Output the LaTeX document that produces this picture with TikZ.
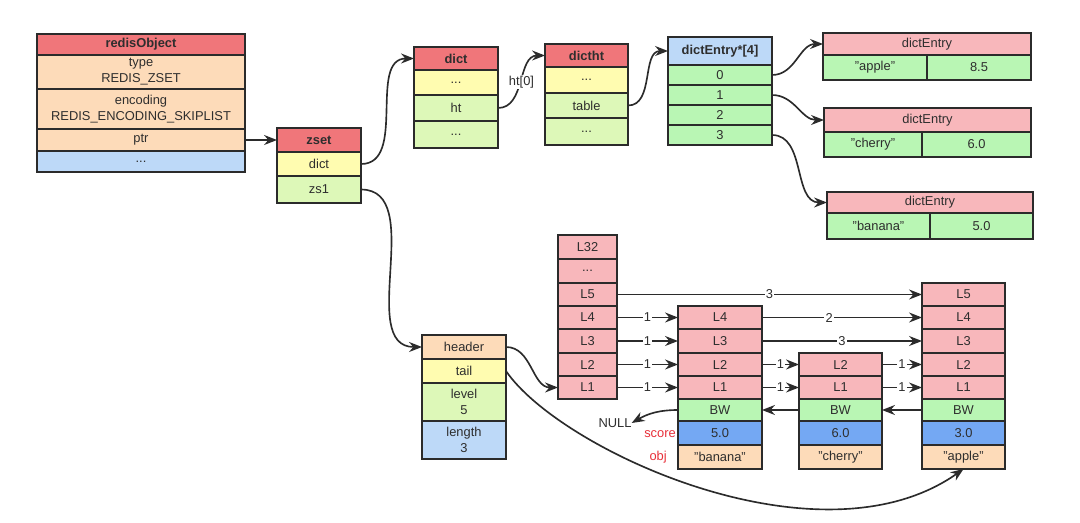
\documentclass[tikz,border=0pt]{standalone}
\usepackage{fontspec}
\setmainfont{Liberation Sans}
\usetikzlibrary{arrows.meta}
\definecolor{tred}{HTML}{F0767A}
\definecolor{peach}{HTML}{FDDBB9}
\definecolor{lblue}{HTML}{BDD9F8}
\definecolor{yel}{HTML}{FFFCB0}
\definecolor{lgreen}{HTML}{DDF8B8}
\definecolor{pink}{HTML}{F8B7BB}
\definecolor{green}{HTML}{B9F6B4}
\definecolor{sblue}{HTML}{74A8F3}
\definecolor{linec}{HTML}{2B2B2B}
\definecolor{textc}{HTML}{2E2E2E}
\definecolor{lred}{HTML}{E8303A}
\tikzset{
  cellst/.style={draw=linec, line width=1.5pt, inner sep=0pt, outer sep=0pt,
    anchor=north west, align=center, text=textc, font=\fontsize{11}{13.5}\selectfont},
  link/.style={draw=linec, line width=1.4pt, -{Stealth[length=11pt,width=8.5pt]}},
  wt/.style={fill=white, inner sep=1pt, text=textc, font=\fontsize{11}{13.5}\selectfont},
  plain/.style={inner sep=0pt, text=textc, font=\fontsize{11}{13.5}\selectfont},
  redlab/.style={inner sep=0pt, text=lred, font=\fontsize{11}{13.5}\selectfont},
}
\newcommand\cellbox[7]{\node[cellst,fill=#6,minimum width=#4*0.03cm,minimum height=#5*0.03cm] (#1) at (#2,#3) {#7};}
\begin{document}
\begin{tikzpicture}[x=0.03cm,y=-0.03cm]
\useasboundingbox[fill=white] (0,0) rectangle (1080,522);
% redisObject
\cellbox{ro}{37}{34}{208}{21}{tred}{\bfseries redisObject}
\cellbox{rotype}{37}{55}{208}{34}{peach}{type\\REDIS\_ZSET}
\cellbox{roenc}{37}{89}{208}{40}{peach}{encoding\\REDIS\_ENCODING\_SKIPLIST}
\cellbox{roptr}{37}{129}{208}{22}{peach}{ptr}
\cellbox{rodots}{37}{151}{208}{21}{lblue}{...}
% zset
\cellbox{zs}{277}{128}{84}{24}{tred}{\bfseries zset}
\cellbox{zsdict}{277}{152}{84}{24}{yel}{dict}
\cellbox{zszsl}{277}{176}{84}{27}{lgreen}{zs1}
% dict
\cellbox{dt}{414}{47}{84}{23}{tred}{\bfseries dict}
\cellbox{dtd1}{414}{70}{84}{25}{yel}{...}
\cellbox{dtht}{414}{95}{84}{26}{lgreen}{ht}
\cellbox{dtd2}{414}{121}{84}{27}{lgreen}{...}
% dictht
\cellbox{dh}{545}{44}{83}{23}{tred}{\bfseries dictht}
\cellbox{dhd1}{545}{67}{83}{26}{yel}{...}
\cellbox{dhtable}{545}{93}{83}{25}{lgreen}{table}
\cellbox{dhd2}{545}{118}{83}{27}{lgreen}{...}
% dictEntry*[4]
\cellbox{de}{668}{37}{104}{28}{lblue}{\bfseries dictEntry*[4]}
\cellbox{de0}{668}{65}{104}{20}{green}{0}
\cellbox{de1}{668}{85}{104}{20}{green}{1}
\cellbox{de2}{668}{105}{104}{20}{green}{2}
\cellbox{de3}{668}{125}{104}{20}{green}{3}
% dictEntry apple
\cellbox{ea}{823}{33}{208}{22}{pink}{dictEntry}
\cellbox{eak}{823}{55}{104}{25}{green}{"apple"}
\cellbox{eav}{927}{55}{104}{25}{green}{8.5}
% dictEntry cherry
\cellbox{ec}{824}{108}{207}{24}{pink}{dictEntry}
\cellbox{eck}{824}{132}{98}{25}{green}{"cherry"}
\cellbox{ecv}{922}{132}{109}{25}{green}{6.0}
% dictEntry banana
\cellbox{eb}{827}{192}{206}{21}{pink}{dictEntry}
\cellbox{ebk}{827}{213}{103}{26}{green}{"banana"}
\cellbox{ebv}{930}{213}{103}{26}{green}{5.0}
% zskiplist
\cellbox{hd}{422}{335}{84}{24}{peach}{header}
\cellbox{tl}{422}{359}{84}{24}{yel}{tail}
\cellbox{lv}{422}{383}{84}{38}{lgreen}{level\\5}
\cellbox{ln}{422}{421}{84}{38}{lblue}{length\\3}
% header levels
\cellbox{hL32}{558}{235}{59}{24}{pink}{L32}
\cellbox{hLd}{558}{259}{59}{24}{pink}{...}
\cellbox{hL5}{558}{283}{59}{23}{pink}{L5}
\cellbox{hL4}{558}{306}{59}{23}{pink}{L4}
\cellbox{hL3}{558}{329}{59}{24}{pink}{L3}
\cellbox{hL2}{558}{353}{59}{23}{pink}{L2}
\cellbox{hL1}{558}{376}{59}{23}{pink}{L1}
% banana node
\cellbox{bL4}{678}{306}{84}{23}{pink}{L4}
\cellbox{bL3}{678}{329}{84}{24}{pink}{L3}
\cellbox{bL2}{678}{353}{84}{23}{pink}{L2}
\cellbox{bL1}{678}{376}{84}{23}{pink}{L1}
\cellbox{bBW}{678}{399}{84}{22}{green}{BW}
\cellbox{bsc}{678}{421}{84}{24}{sblue}{5.0}
\cellbox{bobj}{678}{445}{84}{24}{peach}{"banana"}
% cherry node
\cellbox{cL2}{799}{353}{83}{23}{pink}{L2}
\cellbox{cL1}{799}{376}{83}{23}{pink}{L1}
\cellbox{cBW}{799}{399}{83}{22}{green}{BW}
\cellbox{csc}{799}{421}{83}{24}{sblue}{6.0}
\cellbox{cobj}{799}{445}{83}{24}{peach}{"cherry"}
% apple node
\cellbox{aL5}{922}{283}{83}{23}{pink}{L5}
\cellbox{aL4}{922}{306}{83}{23}{pink}{L4}
\cellbox{aL3}{922}{329}{83}{24}{pink}{L3}
\cellbox{aL2}{922}{353}{83}{23}{pink}{L2}
\cellbox{aL1}{922}{376}{83}{23}{pink}{L1}
\cellbox{aBW}{922}{399}{83}{22}{green}{BW}
\cellbox{asc}{922}{421}{83}{24}{sblue}{3.0}
\cellbox{aobj}{922}{445}{83}{24}{peach}{"apple"}
% labels
\node[plain] (null) at (615,423) {NULL};
\node[redlab,anchor=east] (scorel) at (676,434) {score};
\node[redlab,anchor=east] (objl) at (667,457) {obj};
% connectors
\draw[link] (roptr.east) -- (zs.west);
\draw[link] (zsdict.east) to[out=0,in=180] (dt.west);
\draw[link] (dtht.east) to[out=0,in=180] node[wt,pos=0.5] {ht[0]} (dh.west);
\draw[link] (dhtable.east) to[out=0,in=180] (de.west);
\draw[link] (de0.east) to[out=0,in=180] (ea.west);
\draw[link] (de1.east) to[out=0,in=180] (ec.west);
\draw[link] (de3.east) to[out=0,in=180] (eb.west);
\draw[link] (zszsl.east) to[out=0,in=180] (hd.west);
\draw[link] (hd.east) to[out=0,in=180] (hL1.west);
\draw[link] (tl.east) .. controls (560,450) and (820,570) .. (aobj.south);
% level links
\draw[link] (hL5.east) -- node[wt] {3} (aL5.west);
\draw[link] (hL4.east) -- node[wt] {1} (bL4.west);
\draw[link] (hL3.east) -- node[wt] {1} (bL3.west);
\draw[link] (hL2.east) -- node[wt] {1} (bL2.west);
\draw[link] (hL1.east) -- node[wt] {1} (bL1.west);
\draw[link] (bL4.east) -- node[wt,pos=0.42] {2} (aL4.west);
\draw[link] (bL3.east) -- node[wt] {3} (aL3.west);
\draw[link] (bL2.east) -- node[wt] {1} (cL2.west);
\draw[link] (bL1.east) -- node[wt] {1} (cL1.west);
\draw[link] (cL2.east) -- node[wt] {1} (aL2.west);
\draw[link] (cL1.east) -- node[wt] {1} (aL1.west);
% backward links
\draw[link] (aBW.west) -- (cBW.east);
\draw[link] (cBW.west) -- (bBW.east);
\draw[link] (bBW.west) to[out=180,in=30] (null.east);
\end{tikzpicture}
\end{document}
